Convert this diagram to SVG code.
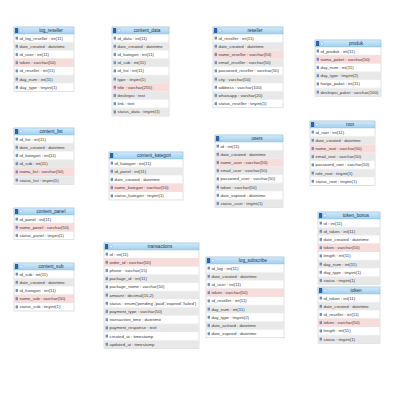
<svg xmlns="http://www.w3.org/2000/svg" width="400" height="400" viewBox="0 0 400 400">
<style>
text{font-family:"Liberation Sans",Arial,sans-serif;font-size:4.3px;fill:#3a3a3a}
.ht{font-size:4.6px;fill:#1d3550;text-anchor:middle}
.box{fill:#fff;stroke:#c4c4c4;stroke-width:0.5}
.hd{fill:url(#hg);stroke:#80b8e0;stroke-width:0.4}
.st{fill:url(#stripe)}
.pk{fill:#f7dcdc}
.ic{fill:url(#icn)}
.tb{fill:#2a63ad}
.pl{fill:#eef6fc;stroke:#5b9bd5;stroke-width:0.4}
</style>
<defs>
<linearGradient id="hg" x1="0" y1="0" x2="0" y2="1"><stop offset="0" stop-color="#d3eafa"/><stop offset="1" stop-color="#a0cfee"/></linearGradient>
<pattern id="stripe" patternUnits="userSpaceOnUse" x="0" y="7" width="400" height="16.4"><rect y="8.2" width="400" height="8.2" fill="#e8e8e8"/></pattern>
<pattern id="icn" patternUnits="userSpaceOnUse" x="0" y="7" width="400" height="8.2"><rect x="1.6" y="2.6" width="2.4" height="3" fill="#7290bd"/></pattern>
</defs>
<rect width="400" height="400" fill="#fff"/>
<g id="connectors"/>

<g id="log_reseller" transform="translate(14,27)">
<rect class="box" width="60" height="64.4"/><rect class="st" y="7" width="60" height="57.4"/><rect class="pk" y="31.6" width="60" height="8.2"/><rect class="ic" y="7" width="5" height="57.4"/>
<rect class="hd" width="60" height="7"/><rect class="tb" x="1" y="1" width="3.2" height="5"/><circle class="pl" cx="7" cy="3.5" r="1.5"/>
<text class="ht" x="37" y="5.2">log_reseller</text>
<text x="5.5" y="12.6">id_log_reseller : int(11)</text><text x="5.5" y="20.8">date_created : datetime</text><text x="5.5" y="29">id_user : int(11)</text><text x="5.5" y="37.2">token : varchar(50)</text><text x="5.5" y="45.4">id_reseller : int(11)</text><text x="5.5" y="53.6">day_num : int(11)</text><text x="5.5" y="61.8">day_type : tinyint(1)</text>
</g>

<g id="content_data" transform="translate(112,27)">
<rect class="box" width="57" height="89"/><rect class="st" y="7" width="57" height="82"/><rect class="pk" y="56.2" width="57" height="8.2"/><rect class="ic" y="7" width="5" height="82"/>
<rect class="hd" width="57" height="7"/><rect class="tb" x="1" y="1" width="3.2" height="5"/><circle class="pl" cx="7" cy="3.5" r="1.5"/>
<text class="ht" x="35" y="5.2">content_data</text>
<text x="5.5" y="12.6">id_data : int(11)</text><text x="5.5" y="20.8">date_created : datetime</text><text x="5.5" y="29">id_kategori : int(11)</text><text x="5.5" y="37.2">id_sub : int(11)</text><text x="5.5" y="45.4">id_list : int(11)</text><text x="5.5" y="53.6">type : tinyint(1)</text><text x="5.5" y="61.8">title : varchar(255)</text><text x="5.5" y="70">deskripsi : text</text><text x="5.5" y="78.2">link : text</text><text x="5.5" y="86.4">status_data : tinyint(1)</text>
</g>

<g id="reseller" transform="translate(213,27)">
<rect class="box" width="70" height="80.8"/><rect class="st" y="7" width="70" height="73.8"/><rect class="pk" y="23.4" width="70" height="8.2"/><rect class="ic" y="7" width="5" height="73.8"/>
<rect class="hd" width="70" height="7"/><rect class="tb" x="1" y="1" width="3.2" height="5"/><circle class="pl" cx="7" cy="3.5" r="1.5"/>
<text class="ht" x="42" y="5.2">reseller</text>
<text x="5.5" y="12.6">id_reseller : int(11)</text><text x="5.5" y="20.8">date_created : datetime</text><text x="5.5" y="29">name_reseller : varchar(50)</text><text x="5.5" y="37.2">email_reseller : varchar(50)</text><text x="5.5" y="45.4">password_reseller : varchar(50)</text><text x="5.5" y="53.6">city : varchar(50)</text><text x="5.5" y="61.8">address : varchar(100)</text><text x="5.5" y="70">whatsapp : varchar(20)</text><text x="5.5" y="78.2">status_reseller : tinyint(1)</text>
</g>

<g id="produk" transform="translate(315,40)">
<rect class="box" width="66" height="56.2"/><rect class="st" y="7" width="66" height="49.2"/><rect class="pk" y="15.2" width="66" height="8.2"/><rect class="ic" y="7" width="5" height="49.2"/>
<rect class="hd" width="66" height="7"/><rect class="tb" x="1" y="1" width="3.2" height="5"/><circle class="pl" cx="7" cy="3.5" r="1.5"/>
<text class="ht" x="41" y="5.2">produk</text>
<text x="5.5" y="12.6">id_produk : int(11)</text><text x="5.5" y="20.8">nama_paket : varchar(50)</text><text x="5.5" y="29">day_num : int(11)</text><text x="5.5" y="37.2">day_type : tinyint(2)</text><text x="5.5" y="45.4">harga_paket : int(11)</text><text x="5.5" y="53.6">deskripsi_paket : varchar(100)</text>
</g>

<g id="content_list" transform="translate(14,128)">
<rect class="box" width="60" height="56.2"/><rect class="st" y="7" width="60" height="49.2"/><rect class="pk" y="39.8" width="60" height="8.2"/><rect class="ic" y="7" width="5" height="49.2"/>
<rect class="hd" width="60" height="7"/><rect class="tb" x="1" y="1" width="3.2" height="5"/><circle class="pl" cx="7" cy="3.5" r="1.5"/>
<text class="ht" x="37" y="5.2">content_list</text>
<text x="5.5" y="12.6">id_list : int(11)</text><text x="5.5" y="20.8">date_created : datetime</text><text x="5.5" y="29">id_kategori : int(11)</text><text x="5.5" y="37.2">id_sub : int(11)</text><text x="5.5" y="45.4">nama_list : varchar(50)</text><text x="5.5" y="53.6">status_list : tinyint(1)</text>
</g>

<g id="content_kategori" transform="translate(109,152)">
<rect class="box" width="74" height="48"/><rect class="st" y="7" width="74" height="41"/><rect class="pk" y="31.6" width="74" height="8.2"/><rect class="ic" y="7" width="5" height="41"/>
<rect class="hd" width="74" height="7"/><rect class="tb" x="1" y="1" width="3.2" height="5"/><circle class="pl" cx="7" cy="3.5" r="1.5"/>
<text class="ht" x="45" y="5.2">content_kategori</text>
<text x="5.5" y="12.6">id_kategori : int(11)</text><text x="5.5" y="20.8">id_panel : int(11)</text><text x="5.5" y="29">date_created : datetime</text><text x="5.5" y="37.2">name_kategori : varchar(50)</text><text x="5.5" y="45.4">status_kategori : tinyint(1)</text>
</g>

<g id="users" transform="translate(215,135)">
<rect class="box" width="68" height="72.6"/><rect class="st" y="7" width="68" height="65.6"/><rect class="pk" y="23.4" width="68" height="8.2"/><rect class="ic" y="7" width="5" height="65.6"/>
<rect class="hd" width="68" height="7"/><rect class="tb" x="1" y="1" width="3.2" height="5"/><circle class="pl" cx="7" cy="3.5" r="1.5"/>
<text class="ht" x="42" y="5.2">users</text>
<text x="5.5" y="12.6">id : int(11)</text><text x="5.5" y="20.8">date_created : datetime</text><text x="5.5" y="29">name_user : varchar(50)</text><text x="5.5" y="37.2">email_user : varchar(50)</text><text x="5.5" y="45.4">password_user : varchar(50)</text><text x="5.5" y="53.6">token : varchar(50)</text><text x="5.5" y="61.8">date_expired : datetime</text><text x="5.5" y="70">status_user : tinyint(1)</text>
</g>

<g id="root" transform="translate(310,121)">
<rect class="box" width="65" height="64.4"/><rect class="st" y="7" width="65" height="57.4"/><rect class="pk" y="23.4" width="65" height="8.2"/><rect class="ic" y="7" width="5" height="57.4"/>
<rect class="hd" width="65" height="7"/><rect class="tb" x="1" y="1" width="3.2" height="5"/><circle class="pl" cx="7" cy="3.5" r="1.5"/>
<text class="ht" x="40" y="5.2">root</text>
<text x="5.5" y="12.6">id_root : int(11)</text><text x="5.5" y="20.8">date_created : datetime</text><text x="5.5" y="29">name_root : varchar(50)</text><text x="5.5" y="37.2">email_root : varchar(50)</text><text x="5.5" y="45.4">password_root : varchar(50)</text><text x="5.5" y="53.6">role_root : tinyint(1)</text><text x="5.5" y="61.8">status_root : tinyint(1)</text>
</g>

<g id="content_panel" transform="translate(14,208)">
<rect class="box" width="60" height="31.6"/><rect class="st" y="7" width="60" height="24.6"/><rect class="pk" y="15.2" width="60" height="8.2"/><rect class="ic" y="7" width="5" height="24.6"/>
<rect class="hd" width="60" height="7"/><rect class="tb" x="1" y="1" width="3.2" height="5"/><circle class="pl" cx="7" cy="3.5" r="1.5"/>
<text class="ht" x="37" y="5.2">content_panel</text>
<text x="5.5" y="12.6">id_panel : int(11)</text><text x="5.5" y="20.8">name_panel : varchar(50)</text><text x="5.5" y="29">status_panel : tinyint(1)</text>
</g>

<g id="content_sub" transform="translate(14,263)">
<rect class="box" width="60" height="48"/><rect class="st" y="7" width="60" height="41"/><rect class="pk" y="31.6" width="60" height="8.2"/><rect class="ic" y="7" width="5" height="41"/>
<rect class="hd" width="60" height="7"/><rect class="tb" x="1" y="1" width="3.2" height="5"/><circle class="pl" cx="7" cy="3.5" r="1.5"/>
<text class="ht" x="37" y="5.2">content_sub</text>
<text x="5.5" y="12.6">id_sub : int(11)</text><text x="5.5" y="20.8">date_created : datetime</text><text x="5.5" y="29">id_kategori : int(11)</text><text x="5.5" y="37.2">name_sub : varchar(50)</text><text x="5.5" y="45.4">status_sub : tinyint(1)</text>
</g>

<g id="transactions" transform="translate(104,243)">
<rect class="box" width="95" height="105.4"/><rect class="st" y="7" width="95" height="98.4"/><rect class="pk" y="15.2" width="95" height="8.2"/><rect class="ic" y="7" width="5" height="98.4"/>
<rect class="hd" width="95" height="7"/><rect class="tb" x="1" y="1" width="3.2" height="5"/><circle class="pl" cx="7" cy="3.5" r="1.5"/>
<text class="ht" x="56" y="5.2">transactions</text>
<text x="5.5" y="12.6">id : int(11)</text><text x="5.5" y="20.8">order_id : varchar(50)</text><text x="5.5" y="29">phone : varchar(15)</text><text x="5.5" y="37.2">package_id : int(11)</text><text x="5.5" y="45.4">package_name : varchar(50)</text><text x="5.5" y="53.6">amount : decimal(15,2)</text><text x="5.5" y="61.8">status : enum('pending','paid','expired','failed')</text><text x="5.5" y="70">payment_type : varchar(50)</text><text x="5.5" y="78.2">transaction_time : datetime</text><text x="5.5" y="86.4">payment_response : text</text><text x="5.5" y="94.6">created_at : timestamp</text><text x="5.5" y="102.8">updated_at : timestamp</text>
</g>

<g id="log_subscribe" transform="translate(206,257)">
<rect class="box" width="78" height="80.8"/><rect class="st" y="7" width="78" height="73.8"/><rect class="pk" y="31.6" width="78" height="8.2"/><rect class="ic" y="7" width="5" height="73.8"/>
<rect class="hd" width="78" height="7"/><rect class="tb" x="1" y="1" width="3.2" height="5"/><circle class="pl" cx="7" cy="3.5" r="1.5"/>
<text class="ht" x="47" y="5.2">log_subscribe</text>
<text x="5.5" y="12.6">id_log : int(11)</text><text x="5.5" y="20.8">date_created : datetime</text><text x="5.5" y="29">id_user : int(11)</text><text x="5.5" y="37.2">token : varchar(50)</text><text x="5.5" y="45.4">id_reseller : int(11)</text><text x="5.5" y="53.6">day_num : int(11)</text><text x="5.5" y="61.8">day_type : tinyint(2)</text><text x="5.5" y="70">date_actived : datetime</text><text x="5.5" y="78.2">date_expired : datetime</text>
</g>

<g id="token_bonus" transform="translate(318,212)">
<rect class="box" width="62" height="72.6"/><rect class="st" y="7" width="62" height="65.6"/><rect class="pk" y="31.6" width="62" height="8.2"/><rect class="ic" y="7" width="5" height="65.6"/>
<rect class="hd" width="62" height="7"/><rect class="tb" x="1" y="1" width="3.2" height="5"/><circle class="pl" cx="7" cy="3.5" r="1.5"/>
<text class="ht" x="38" y="5.2">token_bonus</text>
<text x="5.5" y="12.6">id : int(11)</text><text x="5.5" y="20.8">id_token : int(11)</text><text x="5.5" y="29">date_created : datetime</text><text x="5.5" y="37.2">token : varchar(50)</text><text x="5.5" y="45.4">length : int(11)</text><text x="5.5" y="53.6">day_num : int(11)</text><text x="5.5" y="61.8">day_type : tinyint(1)</text><text x="5.5" y="70">status : tinyint(1)</text>
</g>

<g id="token" transform="translate(318,287)">
<rect class="box" width="62" height="56.2"/><rect class="st" y="7" width="62" height="49.2"/><rect class="pk" y="31.6" width="62" height="8.2"/><rect class="ic" y="7" width="5" height="49.2"/>
<rect class="hd" width="62" height="7"/><rect class="tb" x="1" y="1" width="3.2" height="5"/><circle class="pl" cx="7" cy="3.5" r="1.5"/>
<text class="ht" x="38" y="5.2">token</text>
<text x="5.5" y="12.6">id_token : int(11)</text><text x="5.5" y="20.8">date_created : datetime</text><text x="5.5" y="29">id_reseller : int(11)</text><text x="5.5" y="37.2">token : varchar(50)</text><text x="5.5" y="45.4">length : int(11)</text><text x="5.5" y="53.6">status : tinyint(1)</text>
</g>
</svg>
